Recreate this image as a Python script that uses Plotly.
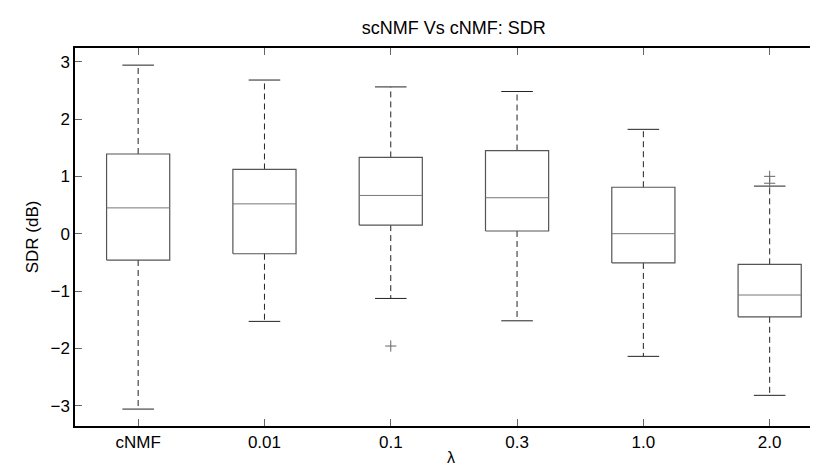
import plotly.graph_objects as go

categories = ["cNMF", "0.01", "0.1", "0.3", "1.0", "2.0"]
upper_whisker = [2.94, 2.68, 2.56, 2.48, 1.82, 0.83]
q3 = [1.39, 1.12, 1.33, 1.45, 0.81, -0.535]
median = [0.45, 0.52, 0.667, 0.627, 0.0, -1.07]
q1 = [-0.46, -0.35, 0.15, 0.047, -0.51, -1.45]
lower_whisker = [-3.06, -1.53, -1.13, -1.52, -2.14, -2.82]
outlier_group = [3, 6, 6]
outlier_value = [-1.96, 1.00, 0.88]

BOX_HALF = 0.25
CAP_HALF = 0.125
FONT = "Liberation Sans, Arial, Helvetica, sans-serif"

fig = go.Figure()

box_x, box_y = [], []
med_x, med_y = [], []
wh_x, wh_y = [], []
cap_x, cap_y = [], []
for i in range(len(categories)):
    p = i + 1
    box_x += [p - BOX_HALF, p + BOX_HALF, p + BOX_HALF, p - BOX_HALF, p - BOX_HALF, None]
    box_y += [q1[i], q1[i], q3[i], q3[i], q1[i], None]
    med_x += [p - BOX_HALF, p + BOX_HALF, None]
    med_y += [median[i], median[i], None]
    wh_x += [p, p, None, p, p, None]
    wh_y += [q3[i], upper_whisker[i], None, q1[i], lower_whisker[i], None]
    cap_x += [p - CAP_HALF, p + CAP_HALF, None, p - CAP_HALF, p + CAP_HALF, None]
    cap_y += [upper_whisker[i], upper_whisker[i], None, lower_whisker[i], lower_whisker[i], None]

fig.add_trace(go.Scatter(x=wh_x, y=wh_y, mode="lines",
                         line=dict(color="#222222", width=1, dash="6px,4px"),
                         hoverinfo="skip", showlegend=False))
fig.add_trace(go.Scatter(x=cap_x, y=cap_y, mode="lines",
                         line=dict(color="#222222", width=1),
                         hoverinfo="skip", showlegend=False))
fig.add_trace(go.Scatter(x=box_x, y=box_y, mode="lines",
                         line=dict(color="#555555", width=1.2),
                         hoverinfo="skip", showlegend=False))
fig.add_trace(go.Scatter(x=med_x, y=med_y, mode="lines",
                         line=dict(color="#777777", width=1),
                         hoverinfo="skip", showlegend=False))
fig.add_trace(go.Scatter(x=outlier_group, y=outlier_value, mode="markers",
                         marker=dict(symbol="cross-thin-open", size=8, color="#666666",
                                     line=dict(color="#666666", width=1)),
                         hoverinfo="skip", showlegend=False))

fig.update_layout(
    width=818, height=467,
    margin=dict(l=67, r=0, t=40, b=49),
    paper_bgcolor="white", plot_bgcolor="white",
    font=dict(family=FONT, size=17, color="black"),
    title=dict(text="scNMF Vs cNMF: SDR", x=0.545, xanchor="center",
               y=0.958, yanchor="middle", font=dict(size=18)),
    xaxis=dict(range=[0.5, 6.446], tickvals=list(range(1, len(categories) + 1)),
               ticktext=categories, ticks="inside", ticklen=7, tickcolor="#666666",
               showline=True, linecolor="black", linewidth=1.5, mirror="ticks",
               showgrid=False, zeroline=False),
    yaxis=dict(range=[-3.355, 3.239], tickvals=[-3, -2, -1, 0, 1, 2, 3],
               ticktext=["−3", "−2", "−1", "0", "1", "2", "3"],
               ticks="inside", ticklen=7, tickcolor="#666666",
               showline=True, linecolor="black", linewidth=1.5, mirror=False,
               showgrid=False, zeroline=False,
               title=dict(text="SDR (dB)", standoff=8, font=dict(size=17))),
    annotations=[dict(text="λ", xref="paper", yref="paper", x=0.5, y=-0.083,
                      xanchor="center", yanchor="middle", showarrow=False,
                      borderpad=0, font=dict(size=16))],
)

fig.write_html("out.html")
